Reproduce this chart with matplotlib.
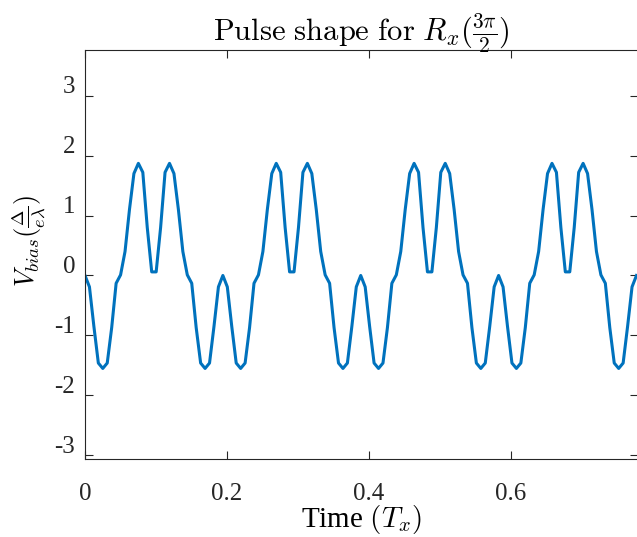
import numpy as np
import matplotlib
matplotlib.use("Agg")
import matplotlib.pyplot as plt
import matplotlib.transforms as mtransforms

# ---- data ----
dt = 0.006265  # sample spacing in units of T_x
v_bias = [
    0.00, -0.19, -0.85, -1.46, -1.55, -1.46, -0.87, -0.13, 0.01, 0.40, 1.10, 1.70, 1.87, 1.72, 0.80, 0.06,
    0.06, 0.80, 1.72, 1.87, 1.70, 1.10, 0.40, 0.01, -0.13, -0.87, -1.46, -1.55, -1.46, -0.85, -0.19,
    0.00, -0.19, -0.85, -1.46, -1.55, -1.46, -0.87, -0.13, 0.01, 0.40, 1.10, 1.70, 1.87, 1.72, 0.80, 0.06,
    0.06, 0.80, 1.72, 1.87, 1.70, 1.10, 0.40, 0.01, -0.13, -0.87, -1.46, -1.55, -1.46, -0.85, -0.19,
    0.00, -0.19, -0.85, -1.46, -1.55, -1.46, -0.87, -0.13, 0.01, 0.40, 1.10, 1.70, 1.87, 1.72, 0.80, 0.06,
    0.06, 0.80, 1.72, 1.87, 1.70, 1.10, 0.40, 0.01, -0.13, -0.87, -1.46, -1.55, -1.46, -0.85, -0.19,
    0.00, -0.19, -0.85, -1.46, -1.55, -1.46, -0.87, -0.13, 0.01, 0.40, 1.10, 1.70, 1.87, 1.72, 0.80, 0.06,
    0.06, 0.80, 1.72, 1.87, 1.70, 1.10, 0.40, 0.01, -0.13, -0.87, -1.46, -1.55, -1.46, -0.85, -0.19,
    0.00,
]
time = np.arange(len(v_bias)) * dt

x_ticks = [0, 0.2, 0.4, 0.6]
x_tick_labels = ["0", "0.2", "0.4", "0.6"]
y_ticks = [-3, -2, -1, 0, 1, 2, 3]
y_tick_labels = ["-3", "-2", "-1", "0", "1", "2", "3"]

# ---- style ----
plt.rcParams["font.family"] = ["Liberation Serif", "DejaVu Serif"]
plt.rcParams["mathtext.fontset"] = "cm"

fig = plt.figure(figsize=(6.37, 5.37), dpi=100)
ax = fig.add_axes([85 / 637, 78 / 537, 553 / 637, 409 / 537])

ax.plot(time, v_bias, color="#0072BD", linewidth=2.2, solid_joinstyle="round")

ax.set_xlim(0, 0.779)
ax.set_ylim(-3.06, 3.76)
ax.set_xticks(x_ticks)
ax.set_xticklabels(x_tick_labels)
ax.set_yticks(y_ticks)
ax.set_yticklabels(y_tick_labels)

ax.tick_params(direction="in", length=6, width=0.8, color="#262626",
               top=True, right=True, labelsize=18, labelcolor="#262626")
ax.tick_params(axis="x", pad=17)
ax.tick_params(axis="y", pad=7)
for lab in ax.get_yticklabels():
    lab.set_transform(lab.get_transform() +
                      mtransforms.ScaledTranslation(0, 11 / 100, fig.dpi_scale_trans))

for side in ["left", "bottom", "top"]:
    ax.spines[side].set_color("#262626")
    ax.spines[side].set_linewidth(0.8)
ax.spines["right"].set_visible(False)

ax.set_title(r"$\mathrm{Pulse\ shape\ for}\ R_x(\frac{3\pi}{2})$", fontsize=22, pad=7)
ax.set_xlabel(r"Time $(T_x)$", fontsize=21, labelpad=-1)
ax.set_ylabel(r"$V_{bias}(\frac{\Delta}{e\lambda})$", fontsize=19)
ax.yaxis.set_label_coords(-0.067, 0.533)

fig.savefig("out.png", dpi=100)
